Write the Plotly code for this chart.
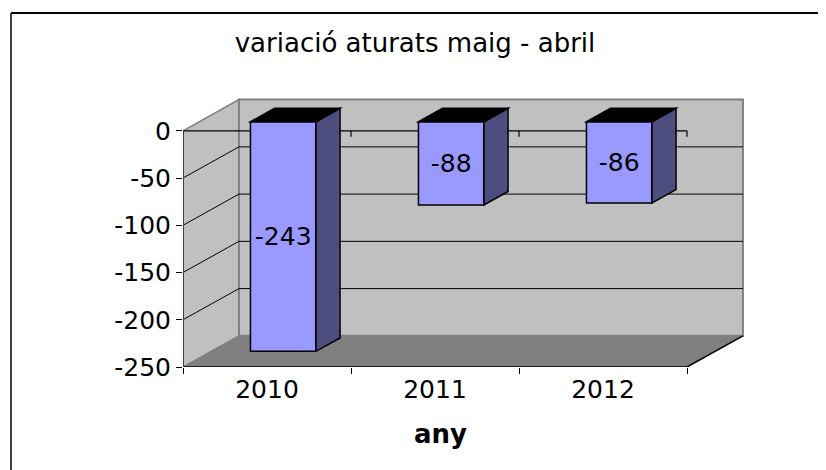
import plotly.graph_objects as go

# ---------------- data ----------------
years = ["2010", "2011", "2012"]
values = [-243, -88, -86]
y_ticks = [0, -50, -100, -150, -200, -250]
title_text = "variació aturats maig - abril"
x_title = "any"

# ---------------- 3D-look geometry (styles) ----------------
FONT = "DejaVu Sans, Arial, sans-serif"
Y_MIN, Y_MAX = min(y_ticks), max(y_ticks)
X0, X1 = -0.5, len(years) - 0.5
WALL_DX, WALL_DY = 0.333, 33.0      # depth vector of the walls (data units)
BAR_POS = 0.29                      # depth position of bar front face
BAR_DEPTH = 0.43                    # bar depth as fraction of wall depth
BAR_W = 0.39
PX_PER_Y = 274 / 290                # pixels per y unit (for small tick lengths)
TICK = 6 / PX_PER_Y

sx, sy = BAR_POS * WALL_DX, BAR_POS * WALL_DY
bdx, bdy = BAR_DEPTH * WALL_DX, BAR_DEPTH * WALL_DY
xs = list(range(len(years)))

def poly(pts):
    return "M " + " L ".join(f"{x},{y}" for x, y in pts) + " Z"

shapes = []
GRAY_EDGE = "#808080"
# left wall
shapes.append(dict(type="path", layer="below", xref="x", yref="y",
                   path=poly([(X0, Y_MAX), (X0 + WALL_DX, Y_MAX + WALL_DY),
                              (X0 + WALL_DX, Y_MIN + WALL_DY), (X0, Y_MIN)]),
                   fillcolor="#c0c0c0", line=dict(color=GRAY_EDGE, width=1.5)))
# back wall
shapes.append(dict(type="rect", layer="below", xref="x", yref="y",
                   x0=X0 + WALL_DX, x1=X1 + WALL_DX, y0=Y_MIN + WALL_DY, y1=Y_MAX + WALL_DY,
                   fillcolor="#c0c0c0", line=dict(color=GRAY_EDGE, width=2)))
# floor
shapes.append(dict(type="path", layer="below", xref="x", yref="y",
                   path=poly([(X0, Y_MIN), (X1, Y_MIN), (X1 + WALL_DX, Y_MIN + WALL_DY),
                              (X0 + WALL_DX, Y_MIN + WALL_DY)]),
                   fillcolor="#808080", line=dict(color=GRAY_EDGE, width=1)))
# gridlines on back wall and left wall
for t in y_ticks:
    if t in (Y_MIN, Y_MAX):
        continue
    shapes.append(dict(type="line", layer="below", xref="x", yref="y",
                       x0=X0 + WALL_DX, x1=X1 + WALL_DX, y0=t + WALL_DY, y1=t + WALL_DY,
                       line=dict(color="black", width=1)))
    shapes.append(dict(type="line", layer="below", xref="x", yref="y",
                       x0=X0, x1=X0 + WALL_DX, y0=t, y1=t + WALL_DY,
                       line=dict(color="black", width=1)))
# floor front/right edge
shapes.append(dict(type="path", layer="below", xref="x", yref="y",
                   path=f"M {X0},{Y_MIN} L {X1},{Y_MIN} L {X1 + WALL_DX},{Y_MIN + WALL_DY}",
                   line=dict(color="black", width=1.5)))
# zero (category) axis line with boundary ticks
shapes.append(dict(type="line", layer="below", xref="x", yref="y",
                   x0=X0, x1=X1, y0=0, y1=0, line=dict(color="black", width=1.2)))
for b in xs:
    shapes.append(dict(type="line", layer="below", xref="x", yref="y",
                       x0=b + 0.5, x1=b + 0.5, y0=0, y1=-TICK,
                       line=dict(color="black", width=1.2)))
# value axis line
shapes.append(dict(type="line", layer="below", xref="x", yref="y",
                   x0=X0, x1=X0, y0=Y_MIN, y1=Y_MAX, line=dict(color="#404040", width=2)))

# bar side and top faces
for x, v in zip(xs, values):
    xl = x - BAR_W / 2 + sx
    xr = xl + BAR_W
    shapes.append(dict(type="path", layer="above", xref="x", yref="y",
                       path=poly([(xr, sy), (xr + bdx, sy + bdy), (xr + bdx, sy + v + bdy), (xr, sy + v)]),
                       fillcolor="#4d4d80", line=dict(color="black", width=1.5)))
    shapes.append(dict(type="path", layer="above", xref="x", yref="y",
                       path=poly([(xl, sy), (xr, sy), (xr + bdx, sy + bdy), (xl + bdx, sy + bdy)]),
                       fillcolor="black", line=dict(color="black", width=1.5)))

# chart border (top and left), positions relative to the plot area
PL, PT, PW, PH = 183, 93, 588, 274      # on-screen plot area
def px(x):
    return (x - PL) / PW
def py(y):
    return (PT + PH - y) / PH
shapes.append(dict(type="line", xref="paper", yref="paper",
                   x0=px(11), x1=px(840), y0=py(13), y1=py(13),
                   line=dict(color="black", width=2)))
shapes.append(dict(type="line", xref="paper", yref="paper",
                   x0=px(11), x1=px(11), y0=py(13), y1=py(480),
                   line=dict(color="#404040", width=2)))

fig = go.Figure()
fig.add_trace(go.Bar(
    x=xs, y=values, base=sy, width=BAR_W, offset=-BAR_W / 2 + sx,
    marker=dict(color="#9999ff", line=dict(color="black", width=1.5)),
    text=[str(v) for v in values], textposition="inside", insidetextanchor="middle",
    textangle=0, constraintext="none",
    textfont=dict(family=FONT, size=25, color="black"),
    hovertemplate="%{customdata}: %{text}<extra></extra>", customdata=years,
))

# page body has an 8px margin: compensate so the chart sits like the reference
OFF = 8
W, H = 826 - 2 * OFF, 470 - OFF
fig.update_layout(
    width=W, height=H,
    margin=dict(l=PL - OFF, r=W - (PL - OFF) - PW, t=PT - OFF, b=H - (PT - OFF) - PH),
    paper_bgcolor="white", plot_bgcolor="white",
    showlegend=False,
    title=dict(text=title_text, x=(415 - OFF) / W, xref="container", xanchor="center",
               y=1 - (43 - OFF) / H, yref="container", yanchor="middle",
               font=dict(family=FONT, size=26, color="black")),
    xaxis=dict(range=[X0, X1 + 0.5], tickmode="array", tickvals=xs, ticktext=years,
               ticks="", showgrid=False, zeroline=False, showline=False,
               tickfont=dict(family=FONT, size=25, color="black"), ticklabelstandoff=5,
               minor=dict(tickmode="array", tickvals=[X0] + [x + 0.5 for x in xs],
                          ticks="outside", ticklen=6, tickcolor="black", tickwidth=1.2)),
    yaxis=dict(range=[Y_MIN, Y_MAX + 40], tickmode="array", tickvals=y_ticks,
               ticktext=[str(t) for t in y_ticks],
               ticks="outside", ticklen=6, tickcolor="black", tickwidth=1.2,
               showgrid=False, zeroline=False, showline=False,
               tickfont=dict(family=FONT, size=25, color="black")),
    shapes=shapes,
    annotations=[dict(text=f"<b>{x_title}</b>", x=1.03, xref="x", y=py(434), yref="paper",
                      yanchor="middle", xanchor="center", showarrow=False,
                      font=dict(family=FONT, size=26, color="black"))],
)

fig.write_html("out.html")
